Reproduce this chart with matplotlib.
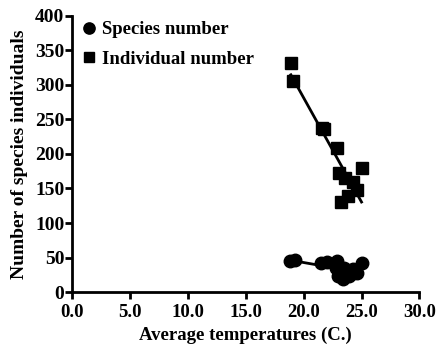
import numpy as np
import matplotlib
matplotlib.use("Agg")
import matplotlib.pyplot as plt

# individuals (squares)
temp_ind = [18.9, 19.1, 21.6, 21.8, 22.9, 23.05, 23.6, 24.3, 24.6, 25.0, 23.8, 23.2]
individuals = [332, 306, 237, 236, 208, 172, 165, 160, 148, 180, 139, 131]

# species (circles)
temp_sp = [18.8, 19.3, 21.5, 22.0, 22.8, 22.9, 23.0, 23.4, 23.5, 23.9, 24.1, 24.3, 24.6, 25.0]
species = [45, 46, 42, 44, 35, 45, 23, 19, 35, 23, 26, 33, 28, 42]

xticks = [0, 5, 10, 15, 20, 25, 30]
yticks = [0, 50, 100, 150, 200, 250, 300, 350, 400]

plt.rcParams["font.family"] = ["Liberation Serif", "DejaVu Serif"]
plt.rcParams["font.weight"] = "bold"
plt.rcParams["font.size"] = 13.5

fig = plt.figure(figsize=(4.36, 3.47), dpi=100)
ax = fig.add_axes([0.165, 0.158, 0.797, 0.797])

ax.plot(temp_sp, species, "o", color="black", markersize=9, label="Species number")
ax.plot(temp_ind, individuals, "s", color="black", markersize=8.5, label="Individual number")

# linear fits
for xs, ys in [(temp_sp, species), (temp_ind, individuals)]:
    k, b = np.polyfit(xs, ys, 1)
    xx = np.array([min(xs), max(xs)])
    ax.plot(xx, k * xx + b, color="black", linewidth=2)

ax.set_xlim(0, 30)
ax.set_ylim(0, 400)
ax.set_xticks(xticks)
ax.set_xticklabels([f"{t:.1f}" for t in xticks])
ax.set_yticks(yticks)
ax.set_xlabel("Average temperatures (C.)", fontweight="bold", labelpad=4)
ax.set_ylabel("Number of species individuals", fontsize=14, fontweight="bold", labelpad=5)

for s in ["top", "right"]:
    ax.spines[s].set_visible(False)
for s in ["left", "bottom"]:
    ax.spines[s].set_linewidth(2)
ax.tick_params(width=2, length=5, pad=0.5, labelsize=14)
ax.tick_params(axis="x", pad=3.5, labelsize=13.5)

ax.legend(loc="upper left", frameon=False, handlelength=0.6, handletextpad=0.4,
          labelspacing=0.65, borderaxespad=0.2, markerscale=0.9,
          bbox_to_anchor=(0.0, 1.02))

fig.savefig("out.png", dpi=100)
